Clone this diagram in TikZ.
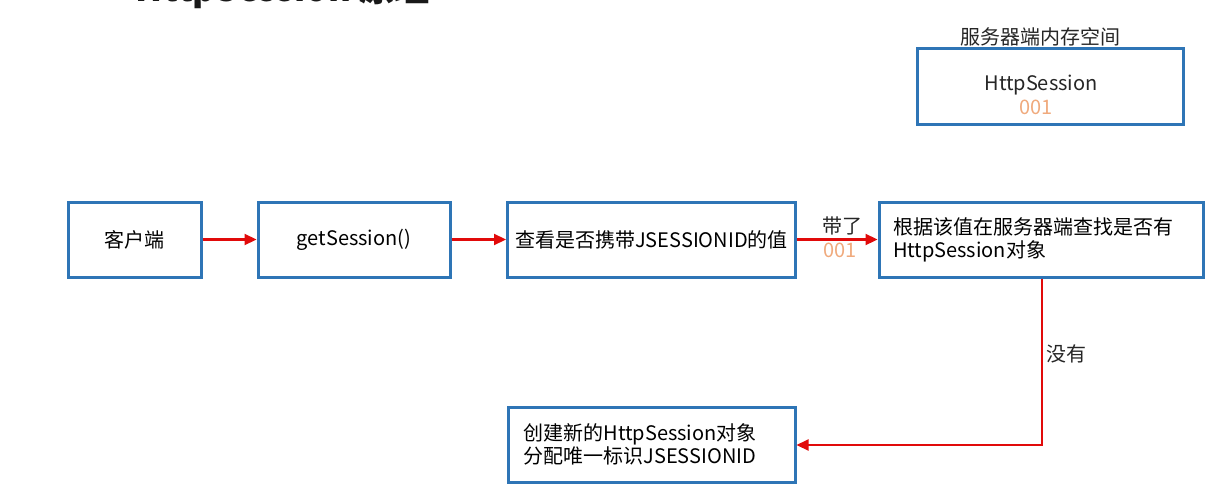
\documentclass[tikz,border=0pt]{standalone}
\usepackage{fontspec}
\setmainfont{Noto Sans CJK SC}
\usetikzlibrary{arrows.meta,calc}
\definecolor{boxblue}{RGB}{46,117,182}
\definecolor{arrred}{RGB}{225,10,10}
\definecolor{idorange}{RGB}{240,170,125}
\tikzset{
  box/.style={draw=boxblue, line width=3pt, fill=white, inner sep=0pt, font=\fontsize{20}{23}\selectfont},
  flow/.style={draw=arrred, line width=2.2pt, -{Triangle[length=12pt,width=11pt]}},
  lbl/.style={inner sep=0pt, font=\fontsize{20}{23}\selectfont, text=black!85},
  idnum/.style={inner sep=0pt, font=\fontsize{20}{22}\selectfont, text=idorange}
}
\begin{document}
\begin{tikzpicture}[x=1pt,y=-1pt]
\useasboundingbox (0,0) rectangle (1207,484);
\fill[white] (0,0) rectangle (1207,484);
\clip (0,0) rectangle (1207,484);
% clipped title
\node[anchor=base west, inner sep=0pt, font=\fontsize{35}{40}\selectfont\bfseries, text=black!90] (title) at (135,1.5) {HttpSession 原理};
% boxes
\node[box, minimum width=133pt, minimum height=75pt] (client) at (134.5,239.5) {客户端};
\node[box, minimum width=192pt, minimum height=75pt] (get) at (354,239.5) {getSession()};
\node[box, minimum width=288pt, minimum height=75pt] (check) at (651.5,239.5) {查看是否携带JSESSIONID的值};
\node[box, minimum width=324pt, minimum height=75pt, text width=296pt, align=left] (find) at (1041,239.5) {根据该值在服务器端查找是否有\\HttpSession对象};
\node[box, minimum width=287pt, minimum height=75pt, text width=256pt, align=left] (create) at (651.5,444.5) {创建新的HttpSession对象\\分配唯一标识JSESSIONID};
\node[box, minimum width=266pt, minimum height=76pt] (mem) at (1050,87) {};
\node[lbl] (memtitle) at (1040,37) {服务器端内存空间};
\node[lbl] (hs) at (1041,85) {HttpSession};
\node[idnum] (hsid) at (1036,107) {001};
% arrows
\draw[flow] (client.east) -- (get.west);
\draw[flow] (get.east) -- (check.west);
\draw[flow] (check.east) -- (find.west);
\node[lbl] (carry) at (842,226) {带了};
\node[idnum] (carryid) at (840,250) {001};
\coordinate (turn) at (1042,445);
\draw[flow] (find.south -| turn) -- (turn) -- (create.east |- turn);
\node[lbl] (none) at (1066,354) {没有};
\end{tikzpicture}
\end{document}
